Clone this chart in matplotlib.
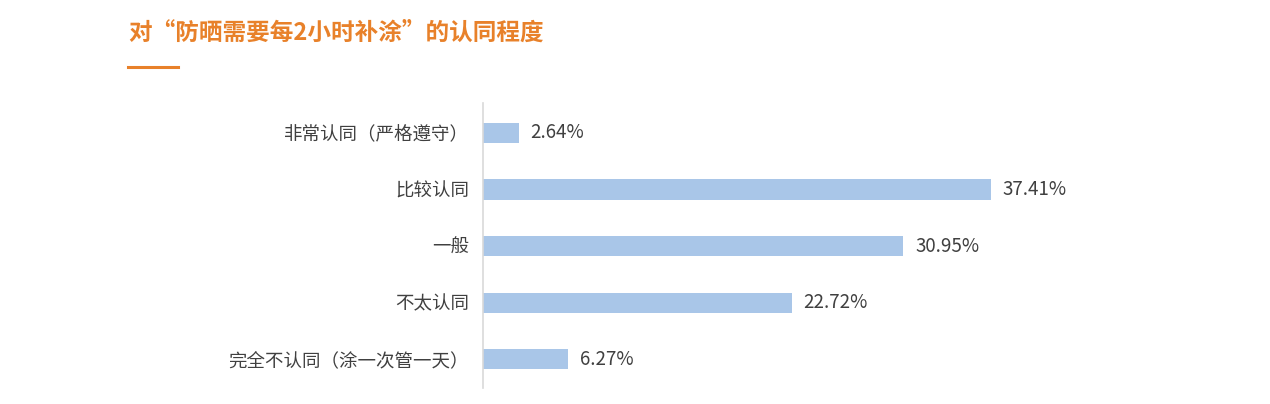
import matplotlib
matplotlib.use("Agg")
import matplotlib.pyplot as plt
from matplotlib.lines import Line2D

plt.rcParams['font.family'] = ['Noto Sans CJK SC', 'DejaVu Sans']

categories = ["非常认同（严格遵守）", "比较认同", "一般", "不太认同", "完全不认同（涂一次管一天）"]
values = [2.64, 37.41, 30.95, 22.72, 6.27]
value_labels = ["2.64%", "37.41%", "30.95%", "22.72%", "6.27%"]
title = "对“防晒需要每2小时补涂”的认同程度"

W, H = 1270, 404
fig = plt.figure(figsize=(W / 100, H / 100), dpi=100)
fig.patch.set_facecolor("white")

ax_left = 483 / W
ax_right = 483 + 50 * 13.58
ax = fig.add_axes([ax_left, 1 - 388 / H, (ax_right - 483) / W, (388 - 103) / H])

y = list(range(len(categories)))
ax.barh(y, values, height=0.355, color="#A9C6E8")
ax.set_ylim(len(categories) - 0.49, -0.53)
ax.set_xlim(0, 50)

for yi, v, lab in zip(y, values, value_labels):
    ax.annotate(lab, (v, yi), xytext=(8.5, 0), textcoords="offset points",
                ha="left", va="center", fontsize=13.5, color="#404040")

ax.set_yticks(y)
ax.set_yticklabels(categories, fontsize=13.3, color="#404040")
ax.tick_params(axis="y", length=0, pad=10)
ax.set_xticks([])
for s in ["top", "right", "bottom"]:
    ax.spines[s].set_visible(False)
ax.spines["left"].set_color("#D9D9D9")
ax.spines["left"].set_linewidth(1.2)

fig.text(128 / W, 1 - 33 / H, title, fontsize=17, fontweight="bold",
         color="#E8812A", ha="left", va="center")
fig.add_artist(Line2D([128 / W, 178 / W], [1 - 67 / H, 1 - 67 / H],
                      color="#E8812A", linewidth=2.2, transform=fig.transFigure))

fig.savefig("out.png", dpi=100, facecolor="white")
